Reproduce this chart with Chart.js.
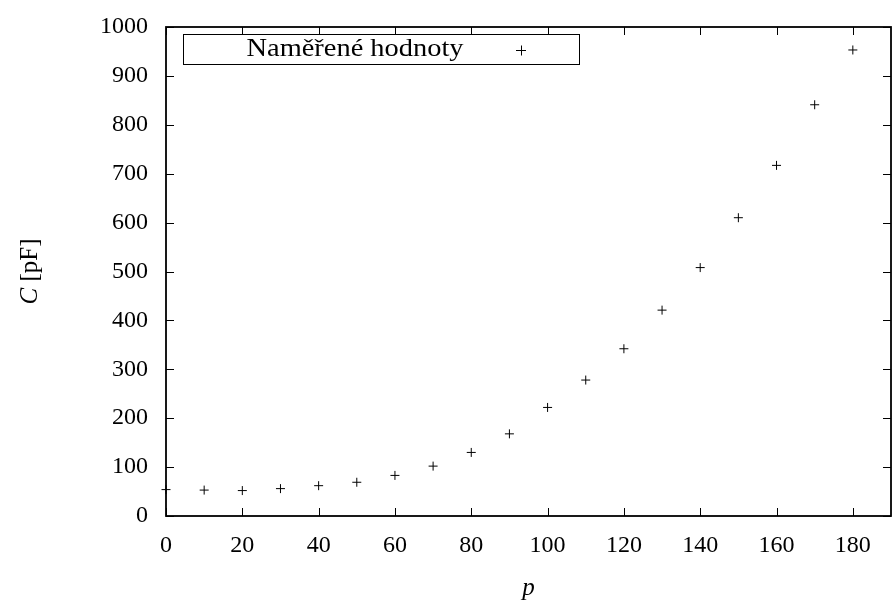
<!DOCTYPE html>
<html>
<head>
<meta charset="utf-8">
<script src="https://cdn.jsdelivr.net/npm/chart.js@4/dist/chart.umd.min.js"></script>
<style>
  html, body { margin: 0; padding: 0; background: #fff; }
  #graf { display: block; }
</style>
</head>
<body>
<canvas id="graf" width="892" height="605"></canvas>
<script>
// naměřená data
const polohy = [0, 10, 20, 30, 40, 50, 60, 70, 80, 90, 100, 110, 120, 130, 140, 150, 160, 170, 180];
const kapacity = [54, 53, 52, 56, 62, 69, 83, 102, 130, 168, 222, 278, 342, 421, 508, 610, 717, 841, 953];
const xTicky = [0, 20, 40, 60, 80, 100, 120, 140, 160, 180];
const popisky = ['Naměřené hodnoty'];

const pismo = '"Liberation Serif", "DejaVu Serif", serif';

// ramecek, vnitrni ticky, popisky os a legenda ve stylu gnuplotu
const gnuplotStyl = {
    id: 'gnuplotStyl',
    afterDraw(chart) {
        const ctx = chart.ctx;
        const a = chart.chartArea;
        const sx = chart.scales.x;
        const sy = chart.scales.y;
        ctx.save();
        ctx.strokeStyle = '#000';
        ctx.lineWidth = 1.8;
        ctx.strokeRect(a.left, a.top, a.right - a.left, a.bottom - a.top);

        ctx.lineWidth = 1;
        ctx.beginPath();
        sx.ticks.forEach(t => {
            const x = Math.round(sx.getPixelForValue(t.value)) + 0.5;
            ctx.moveTo(x, a.bottom); ctx.lineTo(x, a.bottom - 8);
            ctx.moveTo(x, a.top); ctx.lineTo(x, a.top + 8);
        });
        sy.ticks.forEach(t => {
            const y = Math.round(sy.getPixelForValue(t.value)) + 0.5;
            ctx.moveTo(a.left, y); ctx.lineTo(a.left + 8, y);
            ctx.moveTo(a.right, y); ctx.lineTo(a.right - 8, y);
        });
        ctx.stroke();

        // popisek osy x
        ctx.fillStyle = '#000';
        ctx.textAlign = 'center';
        ctx.textBaseline = 'alphabetic';
        ctx.font = 'italic 25px ' + pismo;
        ctx.fillText('p', (a.left + a.right) / 2, 595);

        // popisek osy y
        ctx.save();
        ctx.translate(37, (a.top + a.bottom) / 2);
        ctx.rotate(-Math.PI / 2);
        ctx.textAlign = 'left';
        ctx.font = 'italic 25px ' + pismo;
        const w1 = ctx.measureText('C').width;
        ctx.font = '25px ' + pismo;
        const w2 = ctx.measureText(' [pF]').width;
        let x0 = -(w1 + w2) / 2;
        ctx.font = 'italic 25px ' + pismo;
        ctx.fillText('C', x0, 0);
        ctx.font = '25px ' + pismo;
        ctx.fillText(' [pF]', x0 + w1, 0);
        ctx.restore();

        // legenda
        ctx.lineWidth = 1;
        ctx.fillStyle = '#fff';
        ctx.fillRect(183.5, 34.5, 396, 30);
        ctx.fillStyle = '#000';
        ctx.strokeRect(183.5, 34.5, 396, 30);
        ctx.font = '25px ' + pismo;
        ctx.textAlign = 'center';
        const sirka = ctx.measureText(popisky[0]).width;
        ctx.save();
        ctx.translate(355, 56);
        ctx.scale(217 / sirka, 1);
        ctx.fillText(popisky[0], 0, 0);
        ctx.restore();
        ctx.beginPath();
        ctx.moveTo(516, 50.5); ctx.lineTo(526, 50.5);
        ctx.moveTo(521.5, 45.5); ctx.lineTo(521.5, 55.5);
        ctx.stroke();
        ctx.restore();
    }
};

new Chart(document.getElementById('graf'), {
    type: 'scatter',
    data: {
        datasets: [{
            label: popisky[0],
            data: polohy.map((p, i) => ({ x: p, y: kapacity[i] })),
            pointStyle: 'cross',
            pointRadius: 4.5,
            borderColor: '#000',
            backgroundColor: '#000',
            borderWidth: 1,
            clip: 10
        }]
    },
    options: {
        responsive: false,
        animation: false,
        layout: { autoPadding: false, padding: { top: 27, right: 1, left: 0, bottom: 0 } },
        plugins: {
            legend: { display: false },
            tooltip: { enabled: false }
        },
        scales: {
            x: {
                type: 'linear',
                min: 0,
                max: 190,
                afterBuildTicks: s => { s.ticks = xTicky.map(v => ({ value: v })); },
                afterFit: s => { s.height = 89; s.paddingLeft = 0; s.paddingRight = 0; },
                grid: { display: false, drawTicks: false },
                border: { display: false },
                ticks: {
                    padding: 15,
                    color: '#000',
                    maxRotation: 0,
                    autoSkip: false,
                    callback: v => String(v),
                    font: { family: pismo, size: 24 }
                }
            },
            y: {
                min: 0,
                max: 1000,
                afterFit: s => { s.width = 166; s.paddingTop = 0; s.paddingBottom = 0; },
                grid: { display: false, drawTicks: false },
                border: { display: false },
                ticks: {
                    stepSize: 100,
                    padding: 18,
                    color: '#000',
                    callback: v => String(v),
                    font: { family: pismo, size: 24 }
                }
            }
        }
    },
    plugins: [gnuplotStyl]
});
</script>
</body>
</html>
